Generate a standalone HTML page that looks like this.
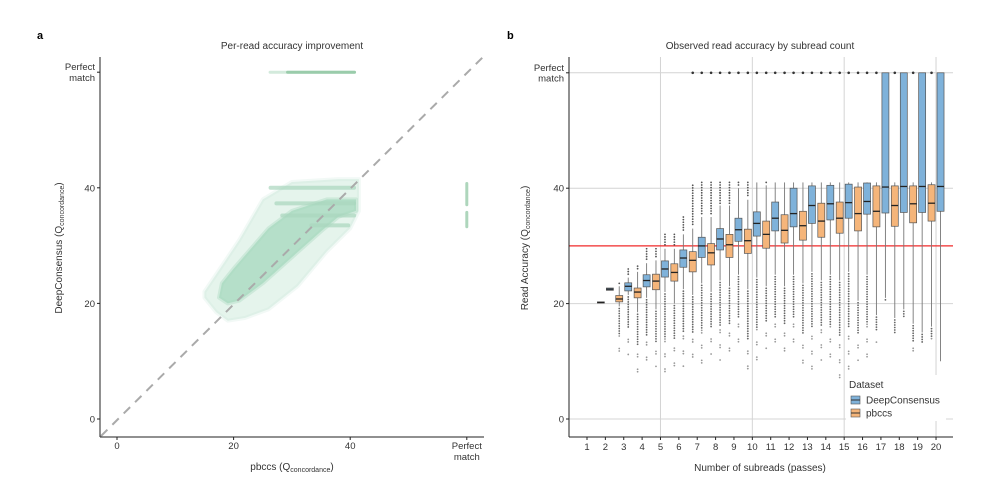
<!DOCTYPE html>
<html><head><meta charset="utf-8"><style>
html,body{margin:0;padding:0;background:#fff;}
svg{display:block;font-family:"Liberation Sans",Arial,sans-serif;}
</style></head><body>
<svg id="fig" width="992" height="497" viewBox="0 0 992 497">
<g id="pa"></g>
<g id="pb"></g>
</svg>
<script>
// ---------- Panel a data ----------
const aXTicks = [0, 20, 40, 60];
const aXTickLabels = ["0", "20", "40", "Perfect|match"];
const aYTicks = [0, 20, 40, 60];
const aYTickLabels = ["0", "20", "40", "Perfect|match"];
const cloudOuterX = [15, 17, 19, 22, 26, 31, 36, 40, 41.5, 41.5, 38, 30, 25, 21, 17, 15];
const cloudOuterY = [21, 18.5, 17, 17.5, 19, 23, 29, 33, 36, 41.5, 41.5, 41, 38, 31, 25, 22];
const cloudCoreX = [17.5, 19, 21, 25, 30, 35, 38, 41, 41, 36, 30, 26, 23, 20, 18];
const cloudCoreY = [21, 20, 20.5, 23.5, 28, 32.5, 35, 36, 38, 38, 36, 33, 29.5, 26, 23.5];
const bandY = [40, 37.3, 35.2, 33.5];
const bandStart = [26, 27, 28, 33];
const bandEnd = [41, 41, 41, 40];
const topRowStart = 26, topRowEnd = 41, topRowDense = 29;
const rightColLo = [33, 36.8], rightColHi = [36, 41];

// ---------- Panel b data ----------
const subreads = [1,2,3,4,5,6,7,8,9,10,11,12,13,14,15,16,17,18,19,20];
const bXTickLabels = ["1","2","3","4","5","6","7","8","9","10","11","12","13","14","15","16","17","18","19","20"];
const bYTicks = [0, 20, 40, 60];
const bYTickLabels = ["0", "20", "40", "Perfect|match"];
const threshold = 30;
const pbQ1  = [null,20.1,20.3,21.0,22.4,23.9,25.5,26.7,28.0,28.7,29.6,30.5,31.0,31.5,32.2,32.6,33.3,33.4,34.0,34.3];
const pbMed = [null,20.2,20.8,22.0,23.9,25.4,27.5,28.8,30.2,30.9,32.0,32.7,33.5,34.3,34.8,35.6,36.0,37.0,37.3,37.4];
const pbQ3  = [null,20.3,21.4,22.7,25.1,26.9,29.0,30.4,32.0,32.9,34.3,35.4,36.0,37.4,37.6,40.2,40.4,40.4,40.4,40.6];
const pbLo  = [null,20.1,19.5,18.5,19.0,20.0,21.5,22.0,23.0,22.5,23.0,23.0,23.5,24.0,24.0,20.5,18.0,17.5,16.5,16.0];
const pbHi  = [null,20.3,23.0,25.5,27.5,29.5,33.0,35.0,37.0,38.0,40.5,41.0,41.0,41.0,41.0,41.0,41.0,41.0,41.0,41.0];
const pbOutMin = [null,20.1,11.0,8.0,9.0,9.0,10.0,11.0,11.5,7.0,12.0,11.0,8.0,10.0,6.5,10.0,13.0,13.0,11.0,13.0];
const pbOutMax = [null,20.3,23.5,26.5,29.5,32.0,40.5,41.0,41.0,41.0,41.0,41.0,41.0,41.0,41.0,41.0,41.0,41.0,41.0,41.0];
const dcQ1  = [null,22.3,22.2,22.9,24.6,26.3,28.0,29.3,30.8,31.7,32.6,33.3,33.9,34.5,34.8,35.5,35.7,35.8,35.8,36.0];
const dcMed = [null,22.5,23.0,24.0,26.0,27.9,30.0,31.2,32.8,33.9,34.8,35.6,37.0,37.3,37.5,37.7,40.2,40.3,40.3,40.3];
const dcQ3  = [null,22.7,23.6,25.0,27.4,29.3,31.5,33.0,34.8,35.9,37.6,40.0,40.4,40.5,40.7,40.9,60.0,60.0,60.0,60.0];
const dcLo  = [null,22.3,21.5,21.0,22.0,22.5,23.5,24.0,25.0,24.5,25.0,25.0,25.5,25.0,25.5,25.0,21.0,19.0,15.0,10.0];
const dcHi  = [null,22.7,24.5,27.0,29.5,32.0,35.0,37.0,40.0,41.0,41.0,41.0,41.0,41.0,41.0,41.0,60.0,60.0,60.0,60.0];
const dcOutMin = [null,22.3,11.0,9.0,8.0,9.0,9.0,10.0,12.0,9.0,11.5,12.0,8.0,9.0,8.5,10.0,20.0,17.0,12.0,21.0];
const dcOutMax = [null,22.7,26.0,29.5,32.0,35.0,41.0,41.0,41.0,41.0,41.0,41.0,41.0,41.0,41.0,41.0,60.0,60.0,60.0,60.0];
const perfectOut = [0,0,0,0,0,0,1,1,1,1,1,1,1,1,1,1,1,1,1,1];

const NS = "http://www.w3.org/2000/svg";
function mk(parent, tag, attrs){
  const e = document.createElementNS(NS, tag);
  for (const k in attrs) e.setAttribute(k, attrs[k]);
  parent.appendChild(e); return e;
}
function multiText(parent, x, y, label, anchor, size){
  const parts = label.split("|");
  const t = mk(parent, "text", {x:x, y:y, "text-anchor":anchor, "font-size":size, fill:"#333"});
  parts.forEach((p,i)=>{ const ts = mk(t,"tspan",{x:x, dy: i===0?0:size*1.15}); ts.textContent = p; });
  return t;
}

// ================= PANEL A =================
const pa = document.getElementById("pa");
const ax = q => 117 + q*5.83;
const ay = q => 419 - q*5.78;
let e;
e = mk(pa,"text",{x:37,y:39,"font-size":11,"font-weight":"bold",fill:"#000"}); e.textContent="a";
 
e = mk(pa,"text",{x:292,y:49,"text-anchor":"middle","font-size":10,fill:"#333"}); e.textContent="Per-read accuracy improvement";
 

function poly(g, xs, ys, fill, op, name){
  const pts = xs.map((x,i)=>ax(x).toFixed(1)+","+ay(ys[i]).toFixed(1)).join(" ");
  const p = mk(g,"polygon",{points:pts, fill:fill, "fill-opacity":op, stroke:fill, "stroke-opacity":op*0.5, "stroke-width":4, "stroke-linejoin":"round"});
  
  
}
const scatter = mk(pa,"g",{});


poly(scatter, cloudOuterX, cloudOuterY, "#c6e6d5", 0.45, "scatter-cloud-outer");
poly(scatter, cloudCoreX, cloudCoreY, "#a9d9c0", 0.8, "scatter-cloud-core");
bandY.forEach((y,i)=>{
  const r = mk(scatter,"rect",{x:ax(bandStart[i]), y:ay(y)-2, width:ax(bandEnd[i])-ax(bandStart[i]), height:4, rx:2, fill:"#a9d6bd", "fill-opacity":0.7});
  
  
});
e = mk(scatter,"rect",{x:ax(topRowStart), y:ay(60)-1.5, width:ax(topRowEnd)-ax(topRowStart), height:3, rx:1.5, fill:"#b5dcc4", "fill-opacity":0.6});
 
e = mk(scatter,"rect",{x:ax(topRowDense), y:ay(60)-1.5, width:ax(topRowEnd)-ax(topRowDense), height:3, rx:1.5, fill:"#8cc49f", "fill-opacity":0.8});
 
rightColLo.forEach((lo,i)=>{
  const r = mk(scatter,"rect",{x:ax(60)-1.5, y:ay(rightColHi[i]), width:3, height:ay(lo)-ay(rightColHi[i]), rx:1.5, fill:"#8cc49f", "fill-opacity":0.7});
   
});
e = mk(pa,"line",{x1:101,y1:436,x2:484,y2:56,stroke:"#aaa","stroke-width":2,"stroke-dasharray":"9,7"});
 
e = mk(pa,"line",{x1:100,y1:57,x2:100,y2:437,stroke:"#222","stroke-width":1});
 
e = mk(pa,"line",{x1:100,y1:437,x2:484,y2:437,stroke:"#222","stroke-width":1});
 
aXTicks.forEach((t,i)=>{
  mk(pa,"line",{x1:ax(t),y1:437,x2:ax(t),y2:440,stroke:"#222"});
  const tx = multiText(pa, ax(t), 449, aXTickLabels[i], "middle", 9.5);
   
});
aYTicks.forEach((t,i)=>{
  mk(pa,"line",{x1:97,y1:ay(t),x2:100,y2:ay(t),stroke:"#222"});
  const two = aYTickLabels[i].includes("|");
  const tx = multiText(pa, 95, ay(t)+(two?-2:3.5), aYTickLabels[i], "end", 9.5);
   
});
e = mk(pa,"text",{x:292,y:470,"text-anchor":"middle","font-size":10,fill:"#333"});
e.innerHTML = 'pbccs (Q<tspan font-size="7" dy="2">concordance</tspan><tspan dy="-2">)</tspan>';
 
e = mk(pa,"text",{x:0,y:0,"text-anchor":"middle","font-size":10,fill:"#333",transform:"translate(62,248) rotate(-90)"});
e.innerHTML = 'DeepConsensus (Q<tspan font-size="7" dy="2">concordance</tspan><tspan dy="-2">)</tspan>';
 

// ================= PANEL B =================
const pb = document.getElementById("pb");
const bx = s => 587 + (s-1)*18.37;
const by = q => 419 - q*5.77;
e = mk(pb,"text",{x:507,y:39,"font-size":11,"font-weight":"bold",fill:"#000"}); e.textContent="b";
 
e = mk(pb,"text",{x:760,y:49,"text-anchor":"middle","font-size":10,fill:"#333"}); e.textContent="Observed read accuracy by subread count";
 
bYTicks.forEach(t=>{
  const l = mk(pb,"line",{x1:569,y1:by(t),x2:953,y2:by(t),stroke:"#d4d4d4","stroke-width":1});
   
});
[5,10,15,20].forEach(s=>{
  const l = mk(pb,"line",{x1:bx(s),y1:57,x2:bx(s),y2:437,stroke:"#d4d4d4","stroke-width":1});
   
});
e = mk(pb,"line",{x1:569,y1:by(threshold),x2:953,y2:by(threshold),stroke:"#f02a2a","stroke-width":1.3});
 

function drawBox(s, off, q1, med, q3, lo, hi, omin, omax, fill, name){
  const cx = bx(s)+off, w = 7;
  const g = mk(pb,"g",{});
  
  
  const start = by(lo)+2, end = by(omin);
  for (let y = start; y <= end; y += 2.5){
    const frac = (y-start)/Math.max(end-start,1);
    if (frac > 0.55 && Math.round(y) % 3 !== 0) continue;
    mk(g,"circle",{cx:cx,cy:y,r:0.9,fill:"#555","fill-opacity":frac>0.55?0.6:0.9});
  }
  for (let y = by(omax); y < by(hi)-2; y += 2.6){
    mk(g,"circle",{cx:cx,cy:y,r:0.9,fill:"#555"});
  }
  mk(g,"line",{x1:cx,y1:by(lo),x2:cx,y2:by(hi),stroke:"#777","stroke-width":0.9});
  mk(g,"rect",{x:cx-w/2,y:by(q3),width:w,height:Math.max(by(q1)-by(q3),1),fill:fill,stroke:"#555","stroke-width":0.7});
  mk(g,"line",{x1:cx-w/2,y1:by(med),x2:cx+w/2,y2:by(med),stroke:"#222","stroke-width":1.3});
}
subreads.forEach((s,i)=>{
  if (pbMed[i] !== null) drawBox(s, -4.5, pbQ1[i], pbMed[i], pbQ3[i], pbLo[i], pbHi[i], pbOutMin[i], pbOutMax[i], "#f5b57a", "box-pbccs-"+s);
  if (dcMed[i] !== null) drawBox(s, 4.5, dcQ1[i], dcMed[i], dcQ3[i], dcLo[i], dcHi[i], dcOutMin[i], dcOutMax[i], "#7fb2da", "box-deepconsensus-"+s);
  if (perfectOut[i]) {
    const c1 = mk(pb,"circle",{cx:bx(s)-4.5,cy:by(60),r:1.3,fill:"#333"});
     
    if (dcQ3[i] < 60) {
      const c2 = mk(pb,"circle",{cx:bx(s)+4.5,cy:by(60),r:1.3,fill:"#333"});
       
    }
  }
});
e = mk(pb,"line",{x1:569,y1:57,x2:569,y2:437,stroke:"#222"});
 
e = mk(pb,"line",{x1:569,y1:437,x2:953,y2:437,stroke:"#222"});
 
subreads.forEach((s,i)=>{
  mk(pb,"line",{x1:bx(s),y1:437,x2:bx(s),y2:440,stroke:"#222"});
  const t = mk(pb,"text",{x:bx(s),y:450,"text-anchor":"middle","font-size":9.5,fill:"#333"});
  t.textContent = bXTickLabels[i];
   
});
bYTicks.forEach((t,i)=>{
  mk(pb,"line",{x1:566,y1:by(t),x2:569,y2:by(t),stroke:"#222"});
  const two = bYTickLabels[i].includes("|");
  const tx = multiText(pb, 564, by(t)+(two?-2:3.5), bYTickLabels[i], "end", 9.5);
   
});
e = mk(pb,"text",{x:760,y:471,"text-anchor":"middle","font-size":10,fill:"#333"}); e.textContent="Number of subreads (passes)";
 
e = mk(pb,"text",{x:0,y:0,"text-anchor":"middle","font-size":10,fill:"#333",transform:"translate(528,248) rotate(-90)"});
e.innerHTML = 'Read Accuracy (Q<tspan font-size="7" dy="2">concordance</tspan><tspan dy="-2">)</tspan>';
 
const lg = mk(pb,"g",{});
 
mk(lg,"rect",{x:846,y:375,width:100,height:46,fill:"#fff"});
e = mk(lg,"text",{x:849,y:388,"font-size":10,fill:"#333"}); e.textContent="Dataset";
 
[["DeepConsensus","#7fb2da",400],["pbccs","#f5b57a",413]].forEach(([lab,col,y])=>{
  const g = mk(lg,"g",{});
   
  mk(g,"rect",{x:851,y:y-4,width:9,height:8,fill:col,stroke:"#555","stroke-width":0.6});
  mk(g,"line",{x1:851,y1:y,x2:860,y2:y,stroke:"#333","stroke-width":1});
  const t = mk(g,"text",{x:866,y:y+3.5,"font-size":10,fill:"#333"}); t.textContent = lab;
});
</script>
</body></html>
